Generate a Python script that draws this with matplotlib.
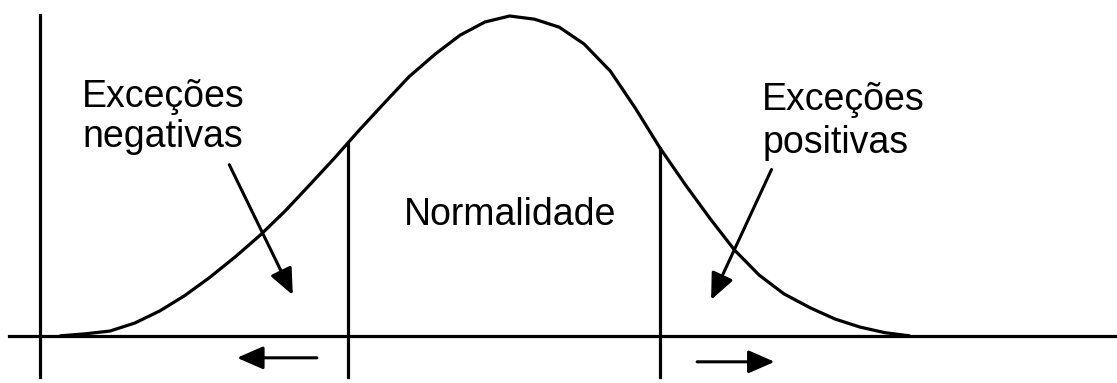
import numpy as np
import matplotlib.pyplot as plt

plt.rcParams['font.family'] = ['Liberation Sans', 'DejaVu Sans']

# bell curve (x in sigma units, y = density)
curve_x = [-2.90, -2.74, -2.58, -2.42, -2.26, -2.10, -1.94, -1.77, -1.61, -1.45,
           -1.29, -1.13, -0.97, -0.81, -0.65, -0.48, -0.32, -0.16, 0.00, 0.16,
           0.32, 0.48, 0.65, 0.81, 0.97, 1.13, 1.29, 1.45, 1.61, 1.77,
           1.94, 2.10, 2.26, 2.42, 2.58]
curve_y = [0.000, 0.0025, 0.006, 0.016, 0.031, 0.050, 0.0725, 0.099, 0.126, 0.156,
           0.189, 0.2225, 0.2575, 0.291, 0.324, 0.3525, 0.376, 0.3925, 0.400, 0.396,
           0.386, 0.365, 0.331, 0.285, 0.235, 0.190, 0.1475, 0.1075, 0.076, 0.0525,
           0.035, 0.021, 0.011, 0.004, 0.000]

# limits of the "normal" zone
cut_x = [-1.045, 0.968]
cut_top = [0.240, 0.235]

label_left = ['Exceções', 'negativas']
label_right = ['Exceções', 'positivas']
label_mid = 'Normalidade'

fig = plt.figure(figsize=(11.17, 3.83), dpi=100)
ax = fig.add_axes([0, 0, 1, 1])
ax.set_xlim(-3.29, 3.92)
ax.set_ylim(-0.059, 0.42)
ax.axis('off')

lw = 2.3
ax.plot(curve_x, curve_y, color='black', lw=lw, solid_capstyle='round', solid_joinstyle='round')

# axes
ax.plot([-3.03, -3.03], [-0.051, 0.401], color='black', lw=lw)
ax.plot([-3.23, 3.92], [0, 0], color='black', lw=lw)

# cut lines
for x, top in zip(cut_x, cut_top):
    ax.plot([x, x], [-0.052, top], color='black', lw=lw)

fs = 27
ax.text(-2.76, 0.286, label_left[0], fontsize=fs, ha='left', va='baseline')
ax.text(-2.76, 0.236, label_left[1], fontsize=fs, ha='left', va='baseline')
ax.text(1.63, 0.283, label_right[0], fontsize=fs, ha='left', va='baseline')
ax.text(1.63, 0.229, label_right[1], fontsize=fs, ha='left', va='baseline')
ax.text(-0.68, 0.139, label_mid, fontsize=fs, ha='left', va='baseline')

arrow = dict(arrowstyle='-|>,head_length=0.8,head_width=0.35', color='black',
             lw=2.2, mutation_scale=20, shrinkA=0, shrinkB=0)
ax.annotate('', xy=(-1.40, 0.051), xytext=(-1.81, 0.214), arrowprops=arrow)
ax.annotate('', xy=(1.30, 0.045), xytext=(1.69, 0.208), arrowprops=arrow)
ax.annotate('', xy=(-1.76, -0.0275), xytext=(-1.245, -0.0275), arrowprops=arrow)
ax.annotate('', xy=(1.71, -0.0325), xytext=(1.21, -0.0325), arrowprops=arrow)

fig.savefig('out.png', dpi=100, facecolor='white')
